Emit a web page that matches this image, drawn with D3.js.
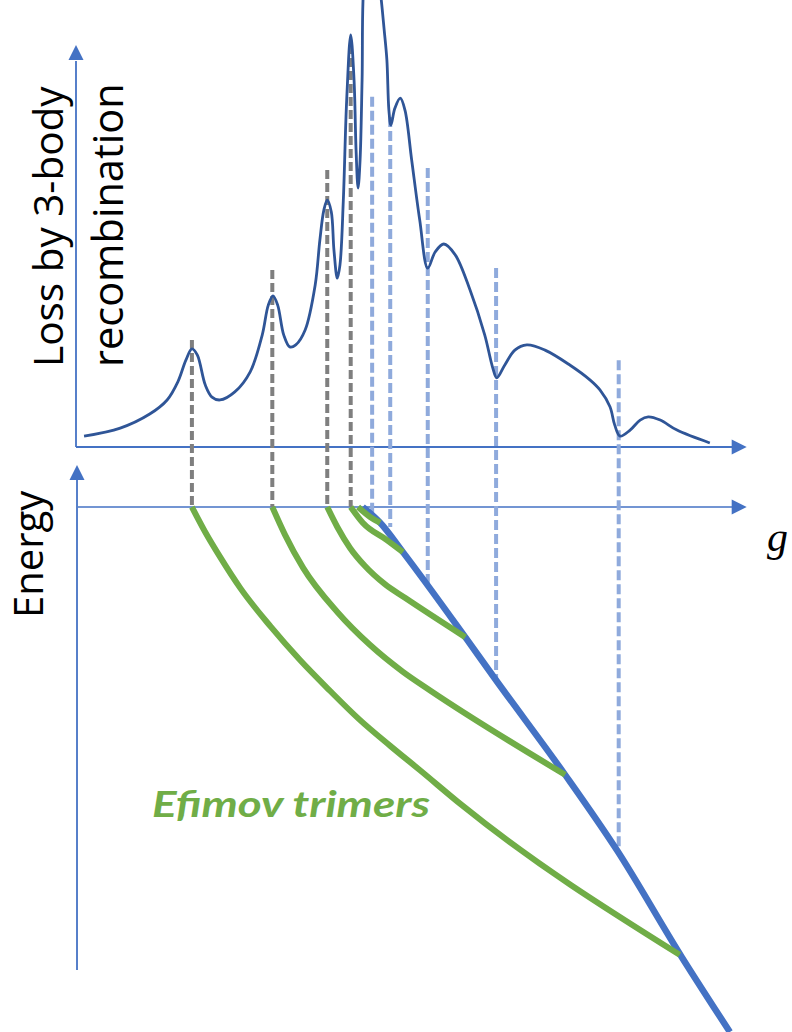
<!DOCTYPE html>
<html>
<head>
<meta charset="utf-8">
<script src="https://cdn.jsdelivr.net/npm/d3@7"></script>
<style>
  html, body { margin: 0; padding: 0; background: #fff; }
  svg { display: block; }
</style>
</head>
<body>
<div id="chart"></div>
<script>
// loss curve (g in axis units 0-100, loss in 0-100)
var lossG = [1.2, 6.6, 11.0, 13.6, 15.2, 16.4, 17.3, 18.1, 19.3, 20.3, 21.5, 23.7, 26.0, 27.8, 28.7, 29.4, 30.1, 31.0, 31.9, 32.8,
  34.2, 35.7, 36.4, 37.0, 37.5, 38.1, 38.5, 39.0, 39.4, 39.9, 40.4, 41.0, 41.5, 41.8, 42.1, 42.4, 42.7, 43.0, 44.2, 45.4,
  46.0, 46.4, 46.7, 47.0, 47.6, 48.4, 49.1, 50.1, 51.3, 52.5, 53.6, 54.9, 56.6, 58.8, 61.0, 62.2, 62.8, 64.0, 65.5, 67.3,
  70.0, 73.7, 76.7, 78.2, 79.7, 80.4, 81.2, 82.7, 84.2, 85.4, 87.2, 89.7, 94.6];
var lossV = [2.7, 4.7, 8.2, 11.7, 16.2, 21.6, 24.4, 22.9, 15.4, 12.4, 11.7, 13.7, 18.7, 27.9, 35.3, 37.6, 35.3, 27.9, 24.9, 25.4,
  29.1, 40.3, 51.5, 59.0, 61.4, 58.5, 49.0, 42.0, 45.3, 61.4, 86.3, 102.5, 91.3, 73.9, 64.4, 71.4, 91.3, 116.2, 128.6, 113.7,
  103.7, 96.3, 83.8, 80.1, 84.3, 86.8, 83.8, 71.4, 56.5, 44.5, 48.5, 50.5, 47.8, 39.1, 27.9, 19.7, 17.2, 20.4, 24.1, 25.4,
  24.1, 20.4, 16.7, 14.2, 10.0, 5.5, 2.7, 4.2, 6.7, 7.5, 6.7, 4.2, 1.0];

// resonance markers (gray) and threshold crossings (light blue)
var grayG = [17.3, 29.3, 37.5, 41.0];
var grayTop = [26.6, 44.0, 68.9, 100];
var lightG = [44.2, 46.9, 52.5, 62.7, 81.0];
var lightTop = [87.1, 82.1, 69.4, 44.5, 21.6];
var lightBottom = [-1.5, -3.8, -14.5, -33.0, -65.3];

// atom-dimer threshold (thick blue)
var threshG = [42.8, 45.4, 48.8, 58.1, 62.7, 73.0, 80.7, 90.4, 97.6];
var threshE = [0, -3.0, -8.6, -24.8, -33.0, -51.0, -65.3, -85.7, -100];

// Efimov trimer branches
var trimer1G = [17.3, 19.3, 21.5, 24.5, 29.0, 33.4, 37.9, 42.4, 46.9, 51.3, 57.6, 90.1];
var trimer1E = [0, -4.8, -9.5, -15.4, -22.7, -29.1, -35.0, -40.6, -45.5, -50.1, -56.8, -85.3];
var trimer2G = [29.3, 31.2, 33.9, 39.0, 43.9, 48.8, 52.8, 73.0];
var trimer2E = [0, -5.3, -11.6, -20.0, -26.3, -31.4, -34.9, -51.0];
var trimer3G = [37.5, 39.0, 40.9, 43.1, 46.1, 49.1, 58.1];
var trimer3E = [0, -3.8, -7.8, -11.2, -14.7, -17.3, -24.8];
var trimer4G = [41.0, 42.8, 46.4, 48.8];
var trimer4E = [0, -3.0, -6.3, -8.6];
var trimer5G = [42.1, 43.9, 45.4];
var trimer5E = [0, -1.9, -3.0];

var width = 792, height = 1032;
var axisBlue = "#4472c4", darkBlue = "#2f5597", green = "#70ad47", gray = "#7f7f7f", lightBlue = "#8faadc";

var svg = d3.select("#chart").append("svg")
  .attr("width", width)
  .attr("height", height);

var xScale = d3.scaleLinear().domain([0, 100]).range([76, 746]);
var lossScale = d3.scaleLinear().domain([0, 100]).range([447, 45]);
var eScale = d3.scaleLinear().domain([0, -100]).range([507, 1032]);

function zip(a, b) { return a.map(function(v, i) { return [v, b[i]]; }); }

// arrowhead helper: tip at (x,y), pointing dir "right" or "up"
function arrow(x, y, dir) {
  var l = 15, w = 7.5;
  var p = dir == "right"
    ? [[x, y], [x - l, y - w], [x - l, y + w]]
    : [[x, y], [x - w, y + l], [x + w, y + l]];
  svg.append("path").attr("d", "M" + p.join("L") + "Z").style("fill", axisBlue);
}

// axes
svg.append("line").attr("x1", xScale(0)).attr("x2", xScale(0))
  .attr("y1", lossScale(0)).attr("y2", lossScale(96))
  .style("stroke", axisBlue).style("stroke-width", 1.8);
svg.append("line").attr("x1", xScale(0)).attr("x2", xScale(98))
  .attr("y1", lossScale(0)).attr("y2", lossScale(0))
  .style("stroke", axisBlue).style("stroke-width", 1.8);
arrow(xScale(0), lossScale(100), "up");
arrow(xScale(100.1), lossScale(0), "right");

svg.append("line").attr("x1", xScale(0.15)).attr("x2", xScale(0.15))
  .attr("y1", eScale(-88.2)).attr("y2", eScale(6))
  .style("stroke", axisBlue).style("stroke-width", 1.8);
svg.append("line").attr("x1", xScale(0.3)).attr("x2", xScale(98))
  .attr("y1", eScale(0)).attr("y2", eScale(0))
  .style("stroke", axisBlue).style("stroke-width", 1.5);
arrow(xScale(0.15), eScale(8.0), "up");
arrow(xScale(100.1), eScale(0), "right");

// dashed guide lines
grayG.forEach(function(g, i) {
  svg.append("line").attr("x1", xScale(g)).attr("x2", xScale(g))
    .attr("y1", lossScale(grayTop[i])).attr("y2", eScale(0))
    .style("stroke", gray).style("stroke-width", 4).style("stroke-dasharray", "9,4");
});
lightG.forEach(function(g, i) {
  svg.append("line").attr("x1", xScale(g)).attr("x2", xScale(g))
    .attr("y1", lossScale(lightTop[i])).attr("y2", eScale(lightBottom[i]))
    .style("stroke", lightBlue).style("stroke-width", 4).style("stroke-dasharray", "10,4");
});

// loss curve
var lossLine = d3.line()
  .x(function(d) { return xScale(d[0]); })
  .y(function(d) { return lossScale(d[1]); })
  .curve(d3.curveCatmullRom.alpha(0.5));
svg.append("path").datum(zip(lossG, lossV))
  .attr("d", lossLine)
  .style("fill", "none").style("stroke", darkBlue).style("stroke-width", 2.8);

// energy diagram
var eLine = d3.line()
  .x(function(d) { return xScale(d[0]); })
  .y(function(d) { return eScale(d[1]); })
  .curve(d3.curveMonotoneX);

svg.append("path").datum(zip(threshG, threshE))
  .attr("d", eLine)
  .style("fill", "none").style("stroke", axisBlue).style("stroke-width", 6.5);

[[trimer1G, trimer1E], [trimer2G, trimer2E], [trimer3G, trimer3E], [trimer4G, trimer4E], [trimer5G, trimer5E]]
  .forEach(function(t) {
    svg.append("path").datum(zip(t[0], t[1]))
      .attr("d", eLine)
      .style("fill", "none").style("stroke", green).style("stroke-width", 6);
  });

// labels
svg.append("text")
  .attr("transform", "translate(63,367) rotate(-90)")
  .style("font-family", "'Open Sans'").style("font-size", "40.5px").style("fill", "#000")
  .text("Loss by 3-body");
svg.append("text")
  .attr("transform", "translate(123,367) rotate(-90)")
  .style("font-family", "'Open Sans'").style("font-size", "41.5px").style("fill", "#000")
  .text("recombination");
svg.append("text")
  .attr("transform", "translate(43,618) rotate(-90)")
  .style("font-family", "'Open Sans'").style("font-size", "40px").style("fill", "#000")
  .text("Energy");
svg.append("text")
  .attr("x", 767).attr("y", 551)
  .style("font-family", "'Liberation Serif'").style("font-style", "italic").style("font-size", "42px").style("fill", "#000")
  .text("g");
svg.append("text")
  .attr("x", 152).attr("y", 817)
  .attr("textLength", 278).attr("lengthAdjust", "spacingAndGlyphs")
  .style("font-family", "Lato").style("font-style", "italic").style("font-weight", "bold")
  .style("font-size", "37px").style("fill", green)
  .text("Efimov trimers");
</script>
</body>
</html>
